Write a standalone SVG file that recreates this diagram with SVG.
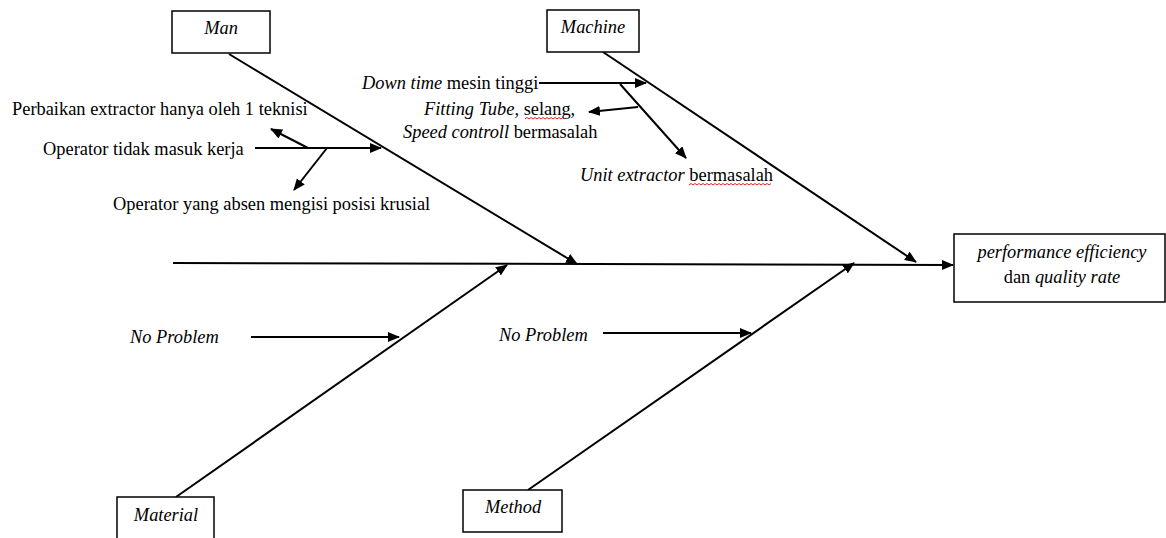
<svg xmlns="http://www.w3.org/2000/svg" width="1166" height="538" viewBox="0 0 1166 538">
<defs>
<marker id="ah" viewBox="0 0 12 10" refX="11" refY="5" markerWidth="12" markerHeight="10" markerUnits="userSpaceOnUse" orient="auto">
<path d="M0,0 L12,5 L0,10 Z" fill="#000"/>
</marker>
<style>
.box{fill:#fff;stroke:#000;stroke-width:1.5}
.ln{stroke:#000;stroke-width:2;fill:none}
.arr{stroke:#000;stroke-width:2;fill:none;marker-end:url(#ah)}
text{font-family:'Liberation Serif','Times New Roman',serif;font-size:18.4px;fill:#000}
.i{font-style:italic}
.sq{stroke:#d22;stroke-width:1;fill:none}
</style>
</defs>
<rect width="1166" height="538" fill="#fff"/>
<g id="connectors">
<line class="ln" x1="173" y1="263" x2="953" y2="265" marker-end="url(#ah)"/>
<line class="arr" x1="229" y1="54" x2="577" y2="264"/>
<line class="arr" x1="603" y1="52" x2="916" y2="262"/>
<line class="arr" x1="176" y1="497" x2="507" y2="265"/>
<line class="arr" x1="528" y1="490" x2="854" y2="263"/>
<line class="arr" x1="255" y1="148" x2="381" y2="148"/>
<line class="arr" x1="308" y1="148" x2="271" y2="129"/>
<line class="arr" x1="327" y1="148" x2="294" y2="190"/>
<line class="arr" x1="539" y1="83" x2="646" y2="83"/>
<line class="arr" x1="620" y1="84" x2="686" y2="158"/>
<line class="arr" x1="638" y1="107" x2="589" y2="112"/>
<line class="arr" x1="251" y1="337" x2="399" y2="337"/>
<line class="arr" x1="603" y1="333" x2="751" y2="333"/>
</g>
<g id="man">
<rect class="box" x="172" y="11" width="98" height="42"/>
<text class="i" x="221" y="34" text-anchor="middle">Man</text>
</g>
<g id="machine">
<rect class="box" x="547" y="10" width="92" height="42"/>
<text class="i" x="593" y="33" text-anchor="middle">Machine</text>
</g>
<g id="material">
<rect class="box" x="117" y="497" width="97" height="45"/>
<text class="i" x="166" y="521" text-anchor="middle">Material</text>
</g>
<g id="method">
<rect class="box" x="463" y="490" width="99" height="42"/>
<text class="i" x="513" y="513" text-anchor="middle">Method</text>
</g>
<g id="effect">
<rect class="box" x="954" y="234" width="211" height="68"/>
<text class="i" x="1062" y="258" text-anchor="middle">performance efficiency</text>
<text x="1062" y="283" text-anchor="middle">dan <tspan class="i">quality rate</tspan></text>
</g>
<g id="man-causes">
<text x="12" y="115">Perbaikan extractor hanya oleh 1 teknisi</text>
<text x="43" y="155">Operator tidak masuk kerja</text>
<text x="113" y="210">Operator yang absen mengisi posisi krusial</text>
</g>
<g id="machine-causes">
<text x="362" y="89"><tspan class="i">Down time</tspan> mesin tinggi</text>
<text x="424" y="115"><tspan class="i">Fitting Tube,</tspan> selang,</text>
<text x="403" y="138"><tspan class="i">Speed controll</tspan> bermasalah</text>
<text x="580" y="181"><tspan class="i">Unit extractor</tspan> bermasalah</text>
<path class="sq" d="M525,119 l2,-1.5 l2,1.5 l2,-1.5 l2,1.5 l2,-1.5 l2,1.5 l2,-1.5 l2,1.5 l2,-1.5 l2,1.5 l2,-1.5 l2,1.5 l2,-1.5 l2,1.5 l2,-1.5 l2,1.5 l2,-1.5 l2,1.5 l2,-1.5 l2,1.5"/>
<path class="sq" d="M689,185 l2,-1.5 l2,1.5 l2,-1.5 l2,1.5 l2,-1.5 l2,1.5 l2,-1.5 l2,1.5 l2,-1.5 l2,1.5 l2,-1.5 l2,1.5 l2,-1.5 l2,1.5 l2,-1.5 l2,1.5 l2,-1.5 l2,1.5 l2,-1.5 l2,1.5 l2,-1.5 l2,1.5 l2,-1.5 l2,1.5 l2,-1.5 l2,1.5 l2,-1.5 l2,1.5 l2,-1.5 l2,1.5 l2,-1.5 l2,1.5 l2,-1.5 l2,1.5 l2,-1.5 l2,1.5 l2,-1.5 l2,1.5 l2,-1.5 l2,1.5 l2,-1.5"/>
</g>
<g id="no-problem">
<text class="i" x="130" y="343">No Problem</text>
<text class="i" x="499" y="341">No Problem</text>
</g>
</svg>
